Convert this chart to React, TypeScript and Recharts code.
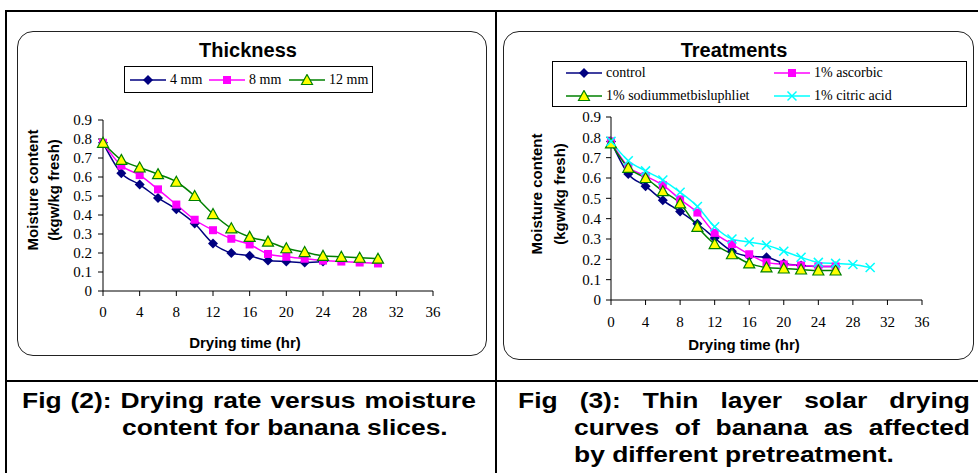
import React from "react";
import { LineChart, Line, XAxis, YAxis, Legend, Label } from "recharts";

// drying time (hr), sampled every 2 h
const hours = [0, 2, 4, 6, 8, 10, 12, 14, 16, 18, 20, 22, 24, 26, 28, 30];
const xTicks = [0, 4, 8, 12, 16, 20, 24, 28, 32, 36];
const yTicks = [0, 0.1, 0.2, 0.3, 0.4, 0.5, 0.6, 0.7, 0.8, 0.9];

// Fig 2 - slice thickness
const thick4mm = [0.78, 0.62, 0.56, 0.49, 0.43, 0.355, 0.25, 0.2, 0.185, 0.16, 0.155, 0.15, 0.155];
const thick8mm = [0.78, 0.66, 0.61, 0.535, 0.455, 0.375, 0.32, 0.275, 0.245, 0.195, 0.18, 0.17, 0.16, 0.155, 0.15, 0.145];
const thick12mm = [0.78, 0.69, 0.65, 0.615, 0.575, 0.5, 0.405, 0.33, 0.285, 0.26, 0.225, 0.205, 0.185, 0.18, 0.175, 0.17];

// Fig 3 - pretreatments
const control = [0.78, 0.62, 0.56, 0.49, 0.435, 0.375, 0.305, 0.24, 0.215, 0.21, 0.18, 0.17, 0.165, 0.165];
const ascorbic = [0.78, 0.655, 0.61, 0.565, 0.495, 0.43, 0.33, 0.275, 0.225, 0.185, 0.175, 0.17, 0.165, 0.165];
const sodium = [0.77, 0.65, 0.6, 0.535, 0.475, 0.36, 0.275, 0.225, 0.18, 0.16, 0.155, 0.15, 0.145, 0.145];
const citric = [0.78, 0.685, 0.635, 0.59, 0.53, 0.46, 0.36, 0.3, 0.285, 0.27, 0.24, 0.21, 0.185, 0.18, 0.175, 0.16];

const serif = '"Liberation Serif", "Times New Roman", serif';
const sans = '"Liberation Sans", Arial, sans-serif';

type Series = { key: string; name: string; color: string; marker: string; values: number[] };

const thicknessSeries: Series[] = [
  { key: "t4", name: "4 mm", color: "#000080", marker: "diamond", values: thick4mm },
  { key: "t8", name: "8 mm", color: "#FF00FF", marker: "square", values: thick8mm },
  { key: "t12", name: "12 mm", color: "#008000", marker: "triangle", values: thick12mm },
];

const treatmentSeries: Series[] = [
  { key: "ctl", name: "control", color: "#000080", marker: "diamond", values: control },
  { key: "asc", name: "1% ascorbic", color: "#FF00FF", marker: "square", values: ascorbic },
  { key: "sod", name: "1% sodiummetbisluphliet", color: "#008000", marker: "triangle", values: sodium },
  { key: "cit", name: "1% citric acid", color: "#00FFFF", marker: "cross", values: citric },
];

function buildRows(series: Series[]) {
  return hours.map((t, i) => {
    const row: any = { t };
    series.forEach((s) => {
      if (i < s.values.length) row[s.key] = s.values[i];
    });
    return row;
  });
}

function markerShape(kind: string, color: string, cx: number, cy: number) {
  if (kind === "diamond")
    return <polygon points={`${cx},${cy - 5} ${cx + 5},${cy} ${cx},${cy + 5} ${cx - 5},${cy}`} fill={color} />;
  if (kind === "square") return <rect x={cx - 4} y={cy - 4} width={8} height={8} fill={color} />;
  if (kind === "triangle")
    return (
      <polygon
        points={`${cx},${cy - 5.5} ${cx + 5.5},${cy + 4.5} ${cx - 5.5},${cy + 4.5}`}
        fill="#FFFF00"
        stroke={color}
        strokeWidth={1.2}
      />
    );
  return (
    <g stroke={color} strokeWidth={1.5}>
      <line x1={cx - 4.5} y1={cy - 4.5} x2={cx + 4.5} y2={cy + 4.5} />
      <line x1={cx - 4.5} y1={cy + 4.5} x2={cx + 4.5} y2={cy - 4.5} />
    </g>
  );
}

function LegendIcon({ s }: { s: Series }) {
  return (
    <svg width={36} height={12} style={{ display: "block" }}>
      <line x1={0} y1={6} x2={36} y2={6} stroke={s.color} strokeWidth={1.5} />
      {markerShape(s.marker, s.color, 18, 6)}
    </svg>
  );
}

type Cfg = {
  left: number; top: number; width: number; height: number;
  title: string; titleX: number;
  plotLeft: number; plotRight: number; plotTop: number; plotBottom: number;
  xTickMargin: number; yTickMargin: number;
  xTitleX: number; xTitleY: number;
  yTitleX: [number, number]; yTitleY: number;
  legend: { left: number; top: number; width: number; height: number };
  legendPos: Array<[number, number]>;
};

function DryingChart({ cfg, series }: { cfg: Cfg; series: Series[] }) {
  const rows = buildRows(series);
  const tickStyle = { fontSize: 15, fill: "#000", fontFamily: serif };
  return (
    <div style={{ position: "absolute", left: cfg.left, top: cfg.top, width: cfg.width, height: cfg.height }}>
      <div
        style={{
          position: "absolute", inset: 0, border: "1px solid #222",
          borderRadius: 16, boxSizing: "border-box",
        }}
      />
      <div
        style={{
          position: "absolute", left: cfg.titleX - 100, width: 200, top: 9, lineHeight: "20px",
          textAlign: "center", fontFamily: sans, fontWeight: "bold", fontSize: 20, color: "#000",
        }}
      >
        {cfg.title}
      </div>
      <div style={{ position: "absolute", left: 0, top: 0 }}>
        <LineChart
          width={cfg.width}
          height={cfg.height}
          data={rows}
          margin={{ top: cfg.plotTop, right: cfg.width - cfg.plotRight, left: 0, bottom: 0 }}
        >
          <XAxis
            dataKey="t"
            type="number"
            domain={[0, 36]}
            ticks={xTicks}
            interval={0}
            height={cfg.height - cfg.plotBottom}
            tick={tickStyle}
            tickSize={5}
            tickMargin={cfg.xTickMargin}
            axisLine={{ stroke: "#000" }}
            tickLine={{ stroke: "#000" }}
          >
            <Label
              content={() => (
                <text
                  x={cfg.xTitleX} y={cfg.xTitleY} textAnchor="middle" dominantBaseline="central"
                  fontFamily={sans} fontWeight="bold" fontSize={15} fill="#000"
                >
                  Drying time (hr)
                </text>
              )}
            />
          </XAxis>
          <YAxis
            type="number"
            domain={[0, 0.9]}
            ticks={yTicks}
            interval={0}
            width={cfg.plotLeft}
            tick={tickStyle}
            tickSize={5}
            tickMargin={cfg.yTickMargin}
            tickFormatter={(v: number) => (v === 0 ? "0" : v.toFixed(1))}
            axisLine={{ stroke: "#000" }}
            tickLine={{ stroke: "#000" }}
          >
            <Label
              content={() => (
                <g fontFamily={sans} fontWeight="bold" fontSize={15} fill="#000">
                  <text
                    x={cfg.yTitleX[0]} y={cfg.yTitleY} textAnchor="middle" dominantBaseline="central"
                    transform={`rotate(-90 ${cfg.yTitleX[0]} ${cfg.yTitleY})`}
                  >
                    Moisture content
                  </text>
                  <text
                    x={cfg.yTitleX[1]} y={cfg.yTitleY} textAnchor="middle" dominantBaseline="central"
                    transform={`rotate(-90 ${cfg.yTitleX[1]} ${cfg.yTitleY})`}
                  >
                    (kgw/kg fresh)
                  </text>
                </g>
              )}
            />
          </YAxis>
          <Legend
            layout="horizontal"
            verticalAlign="middle"
            align="center"
            wrapperStyle={{
              left: cfg.legend.left, top: cfg.legend.top,
              width: cfg.legend.width, height: cfg.legend.height,
            }}
            content={() => (
              <div
                style={{
                  position: "relative", width: cfg.legend.width, height: cfg.legend.height,
                  border: "1px solid #000", boxSizing: "border-box", background: "#fff",
                }}
              >
                {series.map((s, i) => (
                  <div
                    key={s.key}
                    style={{
                      position: "absolute", left: cfg.legendPos[i][0], top: cfg.legendPos[i][1] - 9,
                      height: 18, display: "flex", alignItems: "center", gap: 4,
                      fontFamily: serif, fontSize: 14, color: "#000", whiteSpace: "nowrap",
                    }}
                  >
                    <LegendIcon s={s} />
                    <span>{s.name}</span>
                  </div>
                ))}
              </div>
            )}
          />
          {series.map((s) => (
            <Line
              key={s.key}
              dataKey={s.key}
              name={s.name}
              type="monotone"
              stroke={s.color}
              strokeWidth={1.5}
              isAnimationActive={false}
              dot={(p: any) => (
                <g key={`${s.key}-${p.index}`}>
                  {p.value == null || p.cy == null ? null : markerShape(s.marker, s.color, p.cx, p.cy)}
                </g>
              )}
              activeDot={false}
            />
          ))}
        </LineChart>
      </div>
    </div>
  );
}

const leftCfg: Cfg = {
  left: 17, top: 31, width: 470, height: 325,
  title: "Thickness", titleX: 231,
  plotLeft: 86, plotRight: 416, plotTop: 89, plotBottom: 260,
  xTickMargin: 10, yTickMargin: 6,
  xTitleX: 228, xTitleY: 311,
  yTitleX: [15, 36], yTitleY: 159,
  legend: { left: 107, top: 35, width: 249, height: 27 },
  legendPos: [[5, 13], [84, 13], [164, 13]],
};

const rightCfg: Cfg = {
  left: 503, top: 31, width: 471, height: 329,
  title: "Treatments", titleX: 231,
  plotLeft: 108, plotRight: 419, plotTop: 86, plotBottom: 269,
  xTickMargin: 11, yTickMargin: 5,
  xTitleX: 241, xTitleY: 313,
  yTitleX: [33, 56], yTitleY: 163,
  legend: { left: 49, top: 30, width: 415, height: 46 },
  legendPos: [[13, 11], [221, 11], [13, 34], [221, 34]],
};

function CaptionLine({ text, left, top, width, justify }: { text: string; left: number; top: number; width: number; justify: boolean }) {
  const sx = 1.2;
  return (
    <div
      style={{
        position: "absolute", left, top, width: width / sx, transform: `scaleX(${sx})`, transformOrigin: "left top",
        fontFamily: sans, fontWeight: "bold", fontSize: 22, lineHeight: "27px", color: "#000",
        textAlign: justify ? "justify" : "left", textAlignLast: justify ? "justify" : "left",
      }}
    >
      {text}
    </div>
  );
}

export default function App() {
  const bar = (l: number, t: number, w: number, h: number) => (
    <div style={{ position: "absolute", left: l, top: t, width: w, height: h, background: "#000" }} />
  );
  return (
    <div style={{ position: "absolute", left: 0, top: 0, width: 978, height: 473, background: "#fff", overflow: "hidden" }}>
      {bar(5, 10, 973, 2)}
      {bar(5, 10, 2, 463)}
      {bar(495, 10, 2, 463)}
      {bar(5, 380, 973, 2)}
      <DryingChart cfg={leftCfg} series={thicknessSeries} />
      <DryingChart cfg={rightCfg} series={treatmentSeries} />
      <CaptionLine text="Fig (2): Drying rate versus moisture" left={22} top={387} width={454} justify />
      <CaptionLine text="content for banana slices." left={122} top={414} width={360} justify={false} />
      <CaptionLine text="Fig (3): Thin layer solar drying" left={518} top={387} width={452} justify />
      <CaptionLine text="curves of banana as affected" left={574} top={414} width={396} justify />
      <CaptionLine text="by different pretreatment." left={574} top={441} width={396} justify={false} />
    </div>
  );
}
